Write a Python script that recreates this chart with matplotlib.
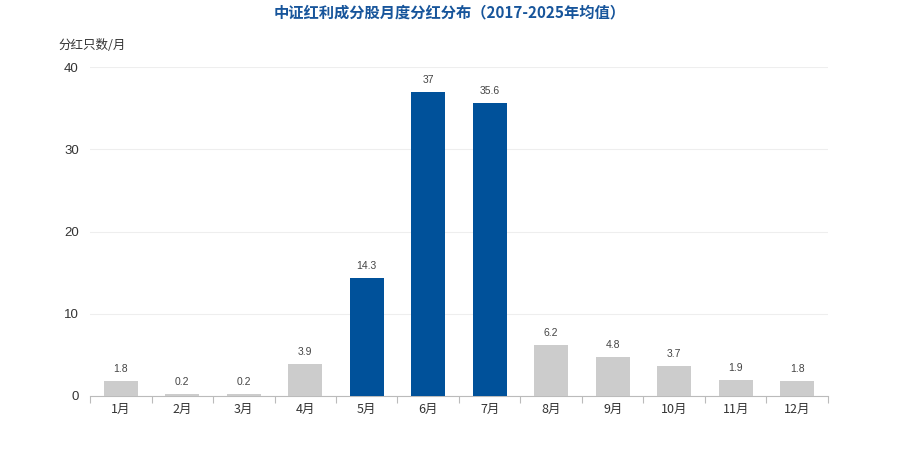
import matplotlib
matplotlib.use("Agg")
import matplotlib.pyplot as plt
import numpy as np

plt.rcParams['font.family'] = ['Noto Sans CJK SC', 'DejaVu Sans']

months = ['1月', '2月', '3月', '4月', '5月', '6月', '7月', '8月', '9月', '10月', '11月', '12月']
values = [1.8, 0.2, 0.2, 3.9, 14.3, 37, 35.6, 6.2, 4.8, 3.7, 1.9, 1.8]
highlight = ['5月', '6月', '7月']
yticks = [0, 10, 20, 30, 40]

blue = '#00519A'
grey = '#CCCCCC'
colors = [blue if m in highlight else grey for m in months]

fig = plt.figure(figsize=(9, 4.5), dpi=100)
ax = fig.add_axes([0.1, 0.12, 0.82, 0.731])

x = np.arange(len(months))
ax.bar(x, values, width=0.55, color=colors, zorder=3)
for xi, v in zip(x, values):
    ax.annotate(f'{v:g}', (xi, v), xytext=(0, 5), textcoords='offset points',
                ha='center', va='bottom', fontsize=7.5, color='#444444',
                family=['Liberation Sans', 'DejaVu Sans'])

ax.set_xlim(-0.5, len(months) - 0.5)
ax.set_ylim(0, 40)
ax.set_yticks(yticks)
ax.set_yticklabels([str(t) for t in yticks], fontsize=9.5, color='#333333',
                   family=['Liberation Sans', 'DejaVu Sans'])
ax.tick_params(axis='y', length=0, pad=8)
ax.set_xticks(x)
ax.set_xticklabels(months, fontsize=9, color='#333333')
ax.tick_params(axis='x', length=0, pad=5)
ax.set_xticks(np.arange(-0.5, len(months)), minor=True)
ax.tick_params(axis='x', which='minor', length=5, color='#bbbbbb', width=0.8)

ax.grid(axis='y', color='#eeeeee', linewidth=0.8, zorder=0)
for s in ['top', 'right', 'left']:
    ax.spines[s].set_visible(False)
ax.spines['bottom'].set_color('#bbbbbb')
ax.spines['bottom'].set_linewidth(0.8)

fig.text(0.5, 0.973, '中证红利成分股月度分红分布（2017-2025年均值）', ha='center', va='center',
         fontsize=11, fontweight='bold', color='#17559b')
fig.text(0.065, 0.898, '分红只数/月', ha='left', va='center', fontsize=9, color='#333333')

fig.savefig('out.png', dpi=100)
